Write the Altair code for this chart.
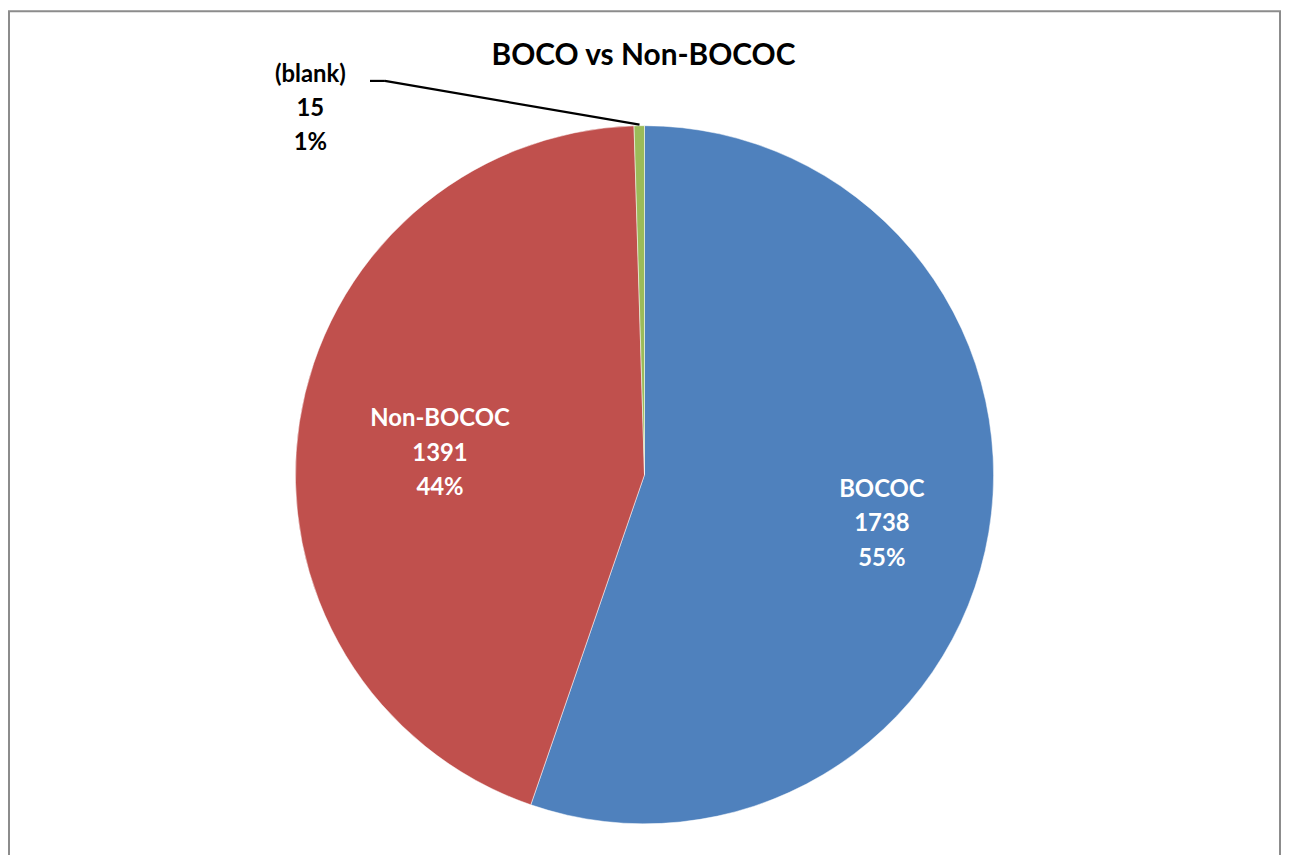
import altair as alt
import pandas as pd

categories = ["BOCOC", "Non-BOCOC", "(blank)"]
values = [1738, 1391, 15]
pct_labels = ["55%", "44%", "1%"]
colors = ["#4F81BD", "#C0504D", "#9BBB59"]

df = pd.DataFrame({
    "cat": categories,
    "value": values,
    "pct": pct_labels,
    "idx": list(range(len(categories))),
})
df["label"] = df["cat"] + "\n" + df["value"].astype(str) + "\n" + df["pct"]

W, H = 1280, 847
CX, CY = 640, 467
R = 351
FONT = "Lato"

base = alt.Chart(df)

pie = base.mark_arc(outerRadius=R, stroke="white", strokeWidth=0.5).encode(
    theta=alt.Theta("value:Q", stack=True),
    order=alt.Order("idx:Q"),
    color=alt.Color("cat:N", scale=alt.Scale(domain=categories, range=colors), legend=None),
    x=alt.value(CX),
    y=alt.value(CY),
)

inner = base.transform_window(
    cum="sum(value)", sort=[alt.SortField("idx")]
).transform_joinaggregate(
    total="sum(value)"
).transform_filter(
    "datum.cat != '(blank)'"
).transform_calculate(
    ang="2*PI*(datum.cum - datum.value/2)/datum.total",
    lr="datum.cat == 'BOCOC' ? 242 : 208",
).transform_calculate(
    px=f"{CX} + datum.lr*sin(datum.ang)",
    py=f"{CY} - datum.lr*cos(datum.ang)",
).mark_text(
    font=FONT, fontSize=24, fontWeight="bold", color="white",
    lineBreak="\n", lineHeight=35, align="center", baseline="middle", dy=-25,
).encode(
    x=alt.X("px:Q", scale=None),
    y=alt.Y("py:Q", scale=None),
    text="label:N",
)

outer = base.transform_filter("datum.cat == '(blank)'").mark_text(
    font=FONT, fontSize=24, fontWeight="bold", color="black",
    lineBreak="\n", lineHeight=34, align="center", baseline="middle",
).encode(
    x=alt.value(304), y=alt.value(65), text="label:N",
)

lead1 = alt.Chart(pd.DataFrame({"a": [0]})).mark_rule(color="black", strokeWidth=2.2).encode(
    x=alt.value(364), x2=alt.value(379), y=alt.value(71), y2=alt.value(71)
)
lead2 = alt.Chart(pd.DataFrame({"a": [0]})).mark_rule(color="black", strokeWidth=2.2).encode(
    x=alt.value(379), x2=alt.value(635), y=alt.value(71), y2=alt.value(115)
)

title = alt.Chart(pd.DataFrame({"t": ["BOCO vs Non-BOCOC"]})).mark_text(
    font=FONT, fontSize=30, fontWeight="bold", color="black", align="center", baseline="middle"
).encode(x=alt.value(639), y=alt.value(46), text="t:N")

border = alt.Chart(pd.DataFrame({"a": [0]})).mark_rect(
    fill=None, stroke="#8C8C8C", strokeWidth=2
).encode(x=alt.value(1), x2=alt.value(1279), y=alt.value(1), y2=alt.value(H + 40))

chart = alt.layer(border, pie, inner, outer, lead1, lead2, title).properties(
    width=W, height=H, autosize=alt.AutoSizeParams(type="none"), padding=0,
).configure_view(stroke=None)

chart.save("out.html", embed_options={"renderer": "svg", "actions": False})
